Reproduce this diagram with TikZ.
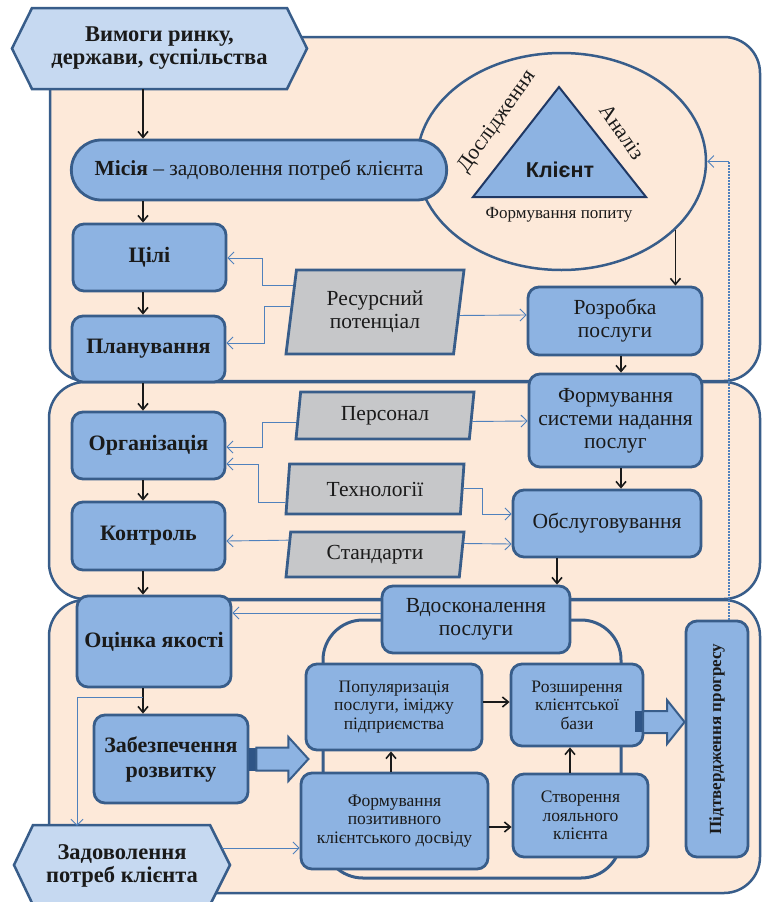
\documentclass[tikz,border=0pt]{standalone}
\usepackage{fontspec}
\setmainfont{Liberation Serif}
\newfontfamily\sansf{Liberation Sans}
\usetikzlibrary{arrows.meta,shapes.geometric,shapes.misc,calc}
\definecolor{salmon}{HTML}{FDE9D9}
\definecolor{bord}{HTML}{385D8A}
\definecolor{boxf}{HTML}{8DB3E2}
\definecolor{hexf}{HTML}{C6D9F1}
\definecolor{grayf}{HTML}{C6C7C9}
\definecolor{conn}{HTML}{4F81BD}
\definecolor{navy}{HTML}{1F3864}
\definecolor{txt}{HTML}{1A1A1A}
\definecolor{barc}{HTML}{2F5586}
\begin{document}
\begin{tikzpicture}[x=1pt,y=-1pt,
  region/.style={fill=salmon, draw=bord, line width=2.5pt, rounded corners=36pt},
  box/.style={draw=bord, fill=boxf, line width=2.8pt, rounded corners=11pt, inner sep=2pt, align=center, text=txt},
  bbox/.style={box, font=\bfseries\fontsize{22}{25}\selectfont},
  rbox/.style={box, font=\fontsize{21.5}{23}\selectfont},
  sbox/.style={box, font=\fontsize{17.5}{18.5}\selectfont},
  hexst/.style={draw=bord, fill=hexf, line width=2.5pt},
  htext/.style={align=center, text=txt, inner sep=0pt, font=\bfseries\fontsize{22.5}{23}\selectfont},
  para/.style={trapezium, trapezium left angle=76, trapezium right angle=104, trapezium stretches body, draw=bord, fill=grayf, line width=2.8pt, font=\fontsize{21.5}{23}\selectfont, align=center, text=txt, inner sep=0pt},
  arr/.style={draw=txt, line width=1.6pt, -{Straight Barb[length=6pt,width=10pt]}},
  tarr/.style={draw=conn, line width=0.9pt, -{Straight Barb[length=6pt,width=12pt]}},
  barrow/.style={draw=bord, fill=boxf, line width=2pt, line join=miter},
  eltext/.style={text=txt, inner sep=0pt, font=\fontsize{21.5}{24}\selectfont},
]
\useasboundingbox (0,0) rectangle (762,902);
\coordinate (colx) at (143,0);

% regions
\draw[region] (50,37) rectangle (760,381);
\draw[region] (49,382) rectangle (760,599);
\draw[region] (49,600) rectangle (760,893);

% top hexagon
\draw[hexst] (12,48.5) -- (32,8) -- (287,8) -- (307,48.5) -- (287,89) -- (32,89) -- cycle;
\node[htext, minimum width=295, minimum height=81] (req) at (159.5,48.5) {Вимоги ринку,\\держави, суспільства};

% client ellipse
\node[ellipse, draw=bord, fill=salmon, line width=2.5pt, minimum width=289, minimum height=217, inner sep=0pt] (cl) at (561.5,161.5) {};
\draw[draw=navy, fill=boxf, line width=2pt, line join=miter] (559,87) -- (646,197) -- (473,197) -- cycle;
\node[text=txt, font=\sansf\bfseries\fontsize{21.5}{24}\selectfont] (klient) at (560,170) {Клієнт};
\node[eltext, rotate=55] (dosl) at (497,122) {Дослідження};
\node[eltext, rotate=-55] (anal) at (622,132) {Аналіз};
\node[text=txt, font=\fontsize{17}{19}\selectfont] (fpop) at (559,215) {Формування попиту};

% mission
\node[rounded rectangle, draw=bord, fill=boxf, line width=2.8pt, minimum width=382, minimum height=60, text=txt, font=\fontsize{21.5}{23}\selectfont] (mis) at (259,170) {\textbf{Місія} – задоволення потреб клієнта};

% left column
\node[bbox, minimum width=153, minimum height=67] (ceil) at (149.5,257.5) {Цілі};
\node[bbox, minimum width=153, minimum height=66] (plan) at (148.5,349) {Планування};
\node[bbox, minimum width=153, minimum height=67] (org) at (148.5,445.5) {Організація};
\node[bbox, minimum width=153, minimum height=68] (kontr) at (148.5,536) {Контроль};
\node[bbox, minimum width=154, minimum height=91] (ocin) at (154,641.5) {Оцінка якості};
\node[bbox, minimum width=154, minimum height=88] (zab) at (171,759) {Забезпечення\\розвитку};

% parallelograms
\node[para, minimum width=178, minimum height=84] (res) at (375,312) {Ресурсний\\потенціал};
\node[para, minimum width=178, minimum height=47] (pers) at (385,415.5) {Персонал};
\node[para, minimum width=178, minimum height=50] (tech) at (375,489) {Технології};
\node[para, minimum width=178, minimum height=45] (stand) at (375,554.5) {Стандарти};

% right column
\node[rbox, minimum width=174, minimum height=68] (razr) at (615,321) {Розробка\\послуги};
\node[rbox, minimum width=173, minimum height=93] (fsys) at (615.5,420.5) {Формування\\системи надання\\послуг};
\node[rbox, minimum width=188, minimum height=67] (obsl) at (607,523.5) {Обслуговування};

% bottom loop
\draw[draw=bord, line width=3pt, rounded corners=40pt] (323,620) rectangle (621,878);
\node[rbox, minimum width=188, minimum height=67] (vdosk) at (476,619.5) {Вдосконалення\\послуги};
\node[sbox, minimum width=176, minimum height=86] (pop) at (394,707) {Популяризація\\послуги, іміджу\\підприємства};
\node[sbox, minimum width=132, minimum height=82] (rozsh) at (577,705) {Розширення\\клієнтської\\бази};
\node[sbox, minimum width=187, minimum height=96] (fpos) at (394.5,821) {Формування\\позитивного\\клієнтського досвіду};
\node[sbox, minimum width=135, minimum height=83] (stvor) at (580.5,815.5) {Створення\\лояльного\\клієнта};
\node[box, minimum width=62, minimum height=236] (pidtv) at (717,739) {};
\node[text=txt, rotate=90, font=\bfseries\fontsize{17}{20}\selectfont] (pidtvt) at (pidtv.center) {Підтвердження прогресу};

% bottom hexagon
\draw[hexst] (14,865) -- (33,825) -- (210,825) -- (230,865) -- (210,905) -- (33,905) -- cycle;
\node[htext, minimum width=216, minimum height=80] (zad) at (122,866) {Задоволення\\потреб клієнта};

% black arrows, left column
\draw[arr] (req.south -| colx) -- (mis.north -| colx);
\draw[arr] (mis.south -| colx) -- (ceil.north -| colx);
\draw[arr] (ceil.south -| colx) -- (plan.north -| colx);
\draw[arr] (plan.south -| colx) -- (org.north -| colx);
\draw[arr] (org.south -| colx) -- (kontr.north -| colx);
\draw[arr] (kontr.south -| colx) -- (ocin.north -| colx);
\draw[arr] (ocin.south -| colx) -- (zab.north -| colx);

% black arrows, right column
\draw[arr] (cl.-31.8) -- (cl.-31.8 |- razr.north);
\coordinate (fx) at (621,0);
\draw[arr] (razr.south -| fx) -- (fsys.north -| fx);
\draw[arr] (fsys.south -| fx) -- (obsl.north -| fx);
\coordinate (ox) at (557,0);
\draw[arr] (obsl.south -| ox) -- (vdosk.north -| ox);

% black arrows, loop
\coordinate (py) at (0,702);
\draw[arr] (pop.east |- py) -- (rozsh.west |- py);
\coordinate (fy) at (0,827);
\draw[arr] (fpos.east |- fy) -- (stvor.west |- fy);
\coordinate (px) at (391,0);
\draw[arr] (fpos.north -| px) -- (pop.south -| px);
\coordinate (sx) at (570,0);
\draw[arr] (stvor.north -| sx) -- (rozsh.south -| sx);

% thin blue connectors
\draw[tarr] ($(res.top left corner)!0.19!(res.bottom left corner)$) -| (262,258) -- (ceil.east |- 0,258);
\draw[tarr] ($(res.top left corner)!0.44!(res.bottom left corner)$) -| (264,343) -- (plan.east |- 0,343);
\draw[tarr] ($(res.top right corner)!0.54!(res.bottom right corner)$) -- (razr.west |- 0,315);
\draw[tarr] ($(pers.top left corner)!0.64!(pers.bottom left corner)$) -| (262,447) -- (org.east |- 0,447);
\draw[tarr] ($(tech.top left corner)!0.76!(tech.bottom left corner)$) -| (258,464) -- (org.east |- 0,464);
\draw[tarr] ($(stand.top left corner)!0.2!(stand.bottom left corner)$) -- (kontr.east |- 0,541);
\draw[tarr] ($(pers.top right corner)!0.62!(pers.bottom right corner)$) -- (fsys.west |- 0,421);
\draw[tarr] ($(tech.top right corner)!0.48!(tech.bottom right corner)$) -| (482,514) -- (obsl.west |- 0,514);
\draw[tarr] ($(stand.top right corner)!0.27!(stand.bottom right corner)$) -- (obsl.west |- 0,544);
\draw[tarr] (vdosk.west |- 0,613) -- (ocin.east |- 0,613);
\draw[tarr] (143,697) -| (zad.north -| 77,0);
\draw[tarr] (221.5,848) -- (fpos.west |- 0,848);
\coordinate (dtop) at (729,161.5);
\draw[conn, line width=1.5pt, dash pattern=on 1.5pt off 1.5pt] (pidtv.north -| dtop) -- (dtop);
\draw[tarr] (dtop) -- (cl.east);

% block arrows
\fill[barc] ($(zab.east)+(0,-11.5)$) rectangle ++(7,23);
\draw[barrow] ($(zab.east)+(7,-11.5)$) -- ++(32,0) -- ++(0,-10.5) -- ++(20,22) -- ++(-20,22) -- ++(0,-10.5) -- ++(-32,0) -- cycle;
\fill[barc] (635,711) rectangle (643,732);
\draw[barrow] (643,711) -- (667,711) -- (667,700) -- (pidtv.west |- 0,722) -- (667,744) -- (667,733) -- (643,733) -- cycle;
\end{tikzpicture}
\end{document}
